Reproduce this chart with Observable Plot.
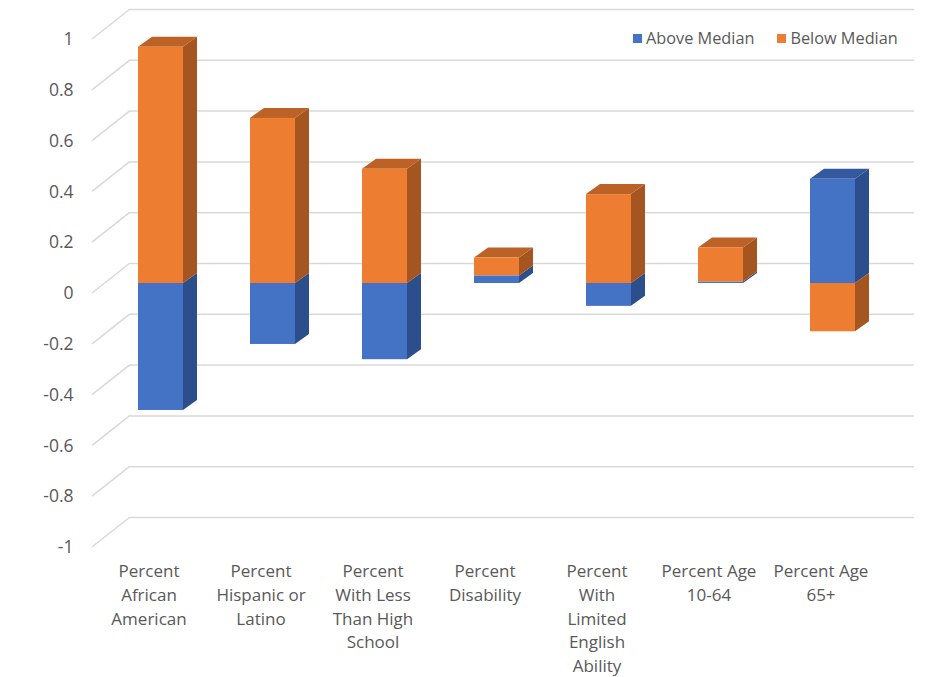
<!DOCTYPE html>
<html>
<head>
<meta charset="utf-8">
<script src="https://cdn.jsdelivr.net/npm/d3@7"></script>
<script src="https://cdn.jsdelivr.net/npm/@observablehq/plot@0.6"></script>
<style>
  body { margin: 0; background: #fff; font-family: "Open Sans", sans-serif; }
  #chart { position: relative; width: 943px; height: 677px; }
  .legend { position: absolute; top: 27px; left: 633px; display: flex; gap: 23px; font-size: 16.3px; color: #595959; line-height: 22px; }
  .legend .item { display: flex; align-items: center; }
  .legend .sw { display: inline-block; width: 9px; height: 9px; margin-right: 4px; }
</style>
</head>
<body>
<div id="chart"></div>
<script>
// Categories along the x axis and their wrapped tick labels
const categories = [
  "Percent African American",
  "Percent Hispanic or Latino",
  "Percent With Less Than High School",
  "Percent Disability",
  "Percent With Limited English Ability",
  "Percent Age 10-64",
  "Percent Age 65+"
];
const categoryLabels = [
  "Percent\nAfrican\nAmerican",
  "Percent\nHispanic or\nLatino",
  "Percent\nWith Less\nThan High\nSchool",
  "Percent\nDisability",
  "Percent\nWith\nLimited\nEnglish\nAbility",
  "Percent Age\n10-64",
  "Percent Age\n65+"
];

// Series values
const seriesNames = ["Above Median", "Below Median"];
const aboveMedian = [-0.50, -0.24, -0.30, 0.03, -0.09, 0.006, 0.41];
const belowMedian = [0.93, 0.65, 0.45, 0.07, 0.35, 0.134, -0.19];

// Y axis ticks
const yTicks = [-1, -0.8, -0.6, -0.4, -0.2, 0, 0.2, 0.4, 0.6, 0.8, 1];

// Face colours: front, side, top
const frontColors = ["#4472C4", "#ED7D31"];
const sideColors = {"Above Median": "#2D4E8C", "Below Median": "#A5551F"};
const topColors = {"Above Median": "#34599F", "Below Median": "#BD6226"};

// Long-format rows for the stacked bars
const rows = [];
categories.forEach((c, i) => {
  rows.push({category: c, series: seriesNames[0], value: aboveMedian[i]});
  rows.push({category: c, series: seriesNames[1], value: belowMedian[i]});
});

// Stacked extents per segment (positives stack upward, negatives downward)
const segments = [];
categories.forEach((c, i) => {
  let pos = 0, neg = 0;
  [[seriesNames[0], aboveMedian[i]], [seriesNames[1], belowMedian[i]]].forEach(([s, v]) => {
    if (v >= 0) { segments.push({category: c, series: s, lo: pos, hi: pos + v}); pos += v; }
    else { segments.push({category: c, series: s, lo: neg + v, hi: neg}); neg += v; }
  });
});

// Depth of the extruded boxes, in pixels
const DX = 14, DY = -10;

// Side and top faces of each box, positioned with the chart's scales
function depthFaces(index, scales) {
  const g = d3.create("svg:g");
  const bw = scales.x.bandwidth();
  for (const c of categories) {
    const segs = segments.filter((s) => s.category === c);
    const x0 = scales.x(c), x1 = x0 + bw;
    for (const s of segs) {
      const ya = scales.y(s.lo), yb = scales.y(s.hi);
      g.append("polygon")
        .attr("points", [[x1, ya], [x1 + DX, ya + DY], [x1 + DX, yb + DY], [x1, yb]].join(" "))
        .attr("fill", sideColors[s.series]);
    }
    const top = segs.reduce((a, b) => (b.hi > a.hi ? b : a));
    const yt = scales.y(top.hi);
    g.append("polygon")
      .attr("points", [[x0, yt], [x0 + DX, yt + DY], [x1 + DX, yt + DY], [x1, yt]].join(" "))
      .attr("fill", topColors[top.series]);
  }
  return g.node();
}

// Slanted floor-to-wall segments of the gridlines
function gridSlants(index, scales, values, dimensions) {
  const g = d3.create("svg:g").attr("stroke", "#d9d9d9").attr("stroke-width", 1.5);
  const xl = dimensions.marginLeft;
  for (const t of yTicks) {
    const y = scales.y(t);
    g.append("line")
      .attr("x1", xl - 12).attr("y1", y + 10)
      .attr("x2", xl + 26).attr("y2", y - 20);
  }
  return g.node();
}

const chart = Plot.plot({
  width: 943,
  height: 677,
  marginTop: 29,
  marginBottom: 140,
  marginLeft: 104,
  marginRight: 55,
  style: {fontFamily: "Open Sans, sans-serif", color: "#595959", background: "#fff"},
  x: {type: "band", domain: categories, paddingInner: 0.6, paddingOuter: 0.3},
  y: {domain: [-1, 1]},
  color: {domain: seriesNames, range: frontColors},
  marks: [
    Plot.ruleY(yTicks, {dx: 26, dy: -20, stroke: "#d9d9d9", strokeWidth: 1.5}),
    gridSlants,
    Plot.axisY(yTicks, {
      tickSize: 0, tickPadding: 31, dy: 10, label: null,
      tickFormat: (d) => String(+d.toFixed(1)),
      fill: "#595959", fontSize: 17.5
    }),
    Plot.axisX({
      tickSize: 0, tickPadding: 13, dx: -12, dy: 10, label: null,
      tickFormat: (d) => categoryLabels[categories.indexOf(d)],
      lineHeight: 1.39, fill: "#595959", fontSize: 17
    }),
    depthFaces,
    Plot.barY(rows, Plot.stackY({x: "category", y: "value", fill: "series"}))
  ]
});

const root = document.getElementById("chart");
root.appendChild(chart);

// Legend, top right inside the plot area
const legend = document.createElement("div");
legend.className = "legend";
seriesNames.forEach((name, i) => {
  const item = document.createElement("div");
  item.className = "item";
  const sw = document.createElement("span");
  sw.className = "sw";
  sw.style.background = frontColors[i];
  item.appendChild(sw);
  item.appendChild(document.createTextNode(name));
  legend.appendChild(item);
});
root.appendChild(legend);
</script>
</body>
</html>
